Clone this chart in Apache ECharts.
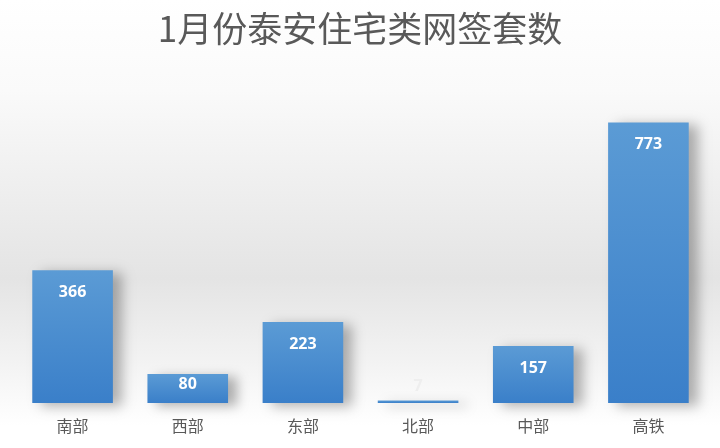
<!DOCTYPE html>
<html><head><meta charset="utf-8">
<script src="https://cdn.jsdelivr.net/npm/echarts@6/dist/echarts.min.js"></script>
<style>html,body{margin:0;padding:0;background:#fff}#c{width:720px;height:448px}</style>
</head><body><div id="c"></div>
<script>
const titleText = '1月份泰安住宅类网签套数';
const categories = ['南部','西部','东部','北部','中部','高铁'];
const values = [366, 80, 223, 7, 157, 773];

function labelFor(v){
  if (v < 20) return {position:'top',distance:6,color:'#eeeeee'};
  if (v < 100) return {distance:2};
  return undefined;
}

const chart = echarts.init(document.getElementById('c'), null, {renderer:'canvas'});
chart.setOption({
  animation:false,
  backgroundColor:{type:'linear',x:0,y:0,x2:0,y2:1,colorStops:[
    {offset:0,color:'#ffffff'},{offset:0.2,color:'#fafafa'},
    {offset:0.62,color:'#e4e4e4'},{offset:0.8,color:'#f2f2f2'},{offset:0.95,color:'#ffffff'},{offset:1,color:'#ffffff'}]},
  title:{text:titleText,left:'center',top:6,
    textStyle:{fontFamily:'Noto Sans CJK SC',fontWeight:'normal',fontSize:35,color:'#595959'}},
  grid:{left:15,right:14,top:40,bottom:45},
  xAxis:{type:'category',data:categories,
    axisLine:{show:false},axisTick:{show:false},
    axisLabel:{margin:15,fontSize:16,color:'#595959',fontFamily:'Noto Sans CJK SC'}},
  yAxis:{type:'value',min:0,max:1000,show:false,splitLine:{show:false}},
  series:[{type:'bar',barWidth:'70%',
    data:values.map((v)=>({value:v,label:labelFor(v)})),
    itemStyle:{color:{type:'linear',x:0,y:0,x2:0,y2:1,colorStops:[
      {offset:0,color:'#5b9bd5'},{offset:1,color:'#3a7fc9'}]},
      shadowColor:'rgba(0,0,0,0.3)',shadowBlur:12,shadowOffsetX:9,shadowOffsetY:3},
    label:{show:true,position:'insideTop',distance:14,color:'#ffffff',
      fontWeight:'bold',fontSize:16,fontFamily:'Open Sans'}
  }]
});
</script></body></html>
